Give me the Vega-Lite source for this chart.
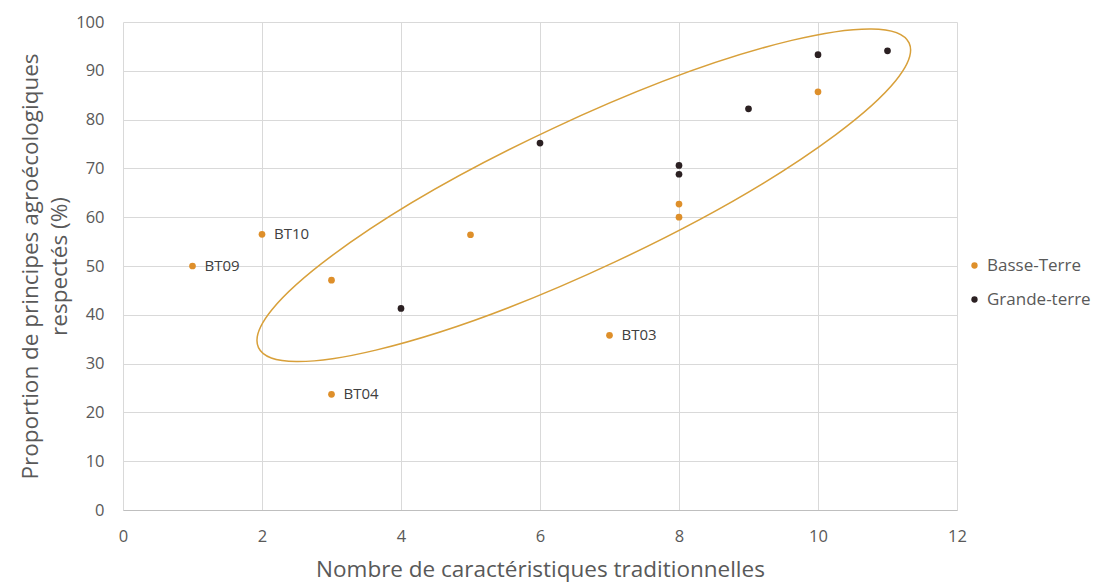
{
  "$schema": "https://vega.github.io/schema/vega-lite/v6.json",
  "width": 834,
  "height": 488,
  "autosize": {"type": "none"},
  "padding": {"left": 123, "top": 22, "right": 143, "bottom": 73},
  "background": "white",
  "config": {
    "font": "Open Sans",
    "view": {"stroke": null},
    "axis": {
      "gridColor": "#d9d9d9",
      "gridWidth": 1,
      "ticks": false,
      "labelFont": "Open Sans",
      "labelFontSize": 16.5,
      "labelColor": "#595959",
      "labelFlush": false,
      "titleFont": "Open Sans",
      "titleFontSize": 22.5,
      "titleFontWeight": "normal",
      "titleColor": "#595959"
    }
  },
  "datasets": {
    "pts": [
      {"nb": 1, "prop": 50.0, "region": "Basse-Terre", "label": "BT09"},
      {"nb": 2, "prop": 56.5, "region": "Basse-Terre", "label": "BT10"},
      {"nb": 3, "prop": 47.1, "region": "Basse-Terre", "label": ""},
      {"nb": 3, "prop": 23.7, "region": "Basse-Terre", "label": "BT04"},
      {"nb": 5, "prop": 56.4, "region": "Basse-Terre", "label": ""},
      {"nb": 7, "prop": 35.8, "region": "Basse-Terre", "label": "BT03"},
      {"nb": 8, "prop": 62.7, "region": "Basse-Terre", "label": ""},
      {"nb": 8, "prop": 60.0, "region": "Basse-Terre", "label": ""},
      {"nb": 10, "prop": 85.7, "region": "Basse-Terre", "label": ""},
      {"nb": 4, "prop": 41.3, "region": "Grande-terre", "label": ""},
      {"nb": 6, "prop": 75.2, "region": "Grande-terre", "label": ""},
      {"nb": 8, "prop": 70.6, "region": "Grande-terre", "label": ""},
      {"nb": 8, "prop": 68.8, "region": "Grande-terre", "label": ""},
      {"nb": 9, "prop": 82.2, "region": "Grande-terre", "label": ""},
      {"nb": 10, "prop": 93.3, "region": "Grande-terre", "label": ""},
      {"nb": 11, "prop": 94.1, "region": "Grande-terre", "label": ""}
    ],
    "ell": [
      {"nb": 6.63, "prop": 64.5}
    ]
  },
  "layer": [
    {
      "data": {"name": "ell"},
      "mark": {
        "type": "point",
        "filled": false,
        "shape": "M 3.2529 -1.5237 C 3.4253 -1.1556 2.1088 -0.1751 0.3122 0.6665 C -1.4844 1.5081 -3.0805 1.8918 -3.2529 1.5237 C -3.4253 1.1556 -2.1088 0.1751 -0.3122 -0.6665 C 1.4844 -1.5081 3.0805 -1.8918 3.2529 -1.5237 Z",
        "size": 40000,
        "stroke": "#D8A03A",
        "strokeWidth": 1.5,
        "opacity": 1
      },
      "encoding": {
        "x": {"field": "nb", "type": "quantitative"},
        "y": {"field": "prop", "type": "quantitative"}
      }
    },
    {
      "data": {"name": "pts"},
      "mark": {"type": "point", "filled": true, "size": 45, "opacity": 1},
      "encoding": {
        "x": {
          "field": "nb",
          "type": "quantitative",
          "scale": {"domain": [0, 12], "nice": false},
          "axis": {
            "values": [0, 2, 4, 6, 8, 10, 12],
            "format": "d",
            "title": "Nombre de caractéristiques traditionnelles",
            "domainColor": "#bfbfbf",
            "labelPadding": 18,
            "titlePadding": 14
          }
        },
        "y": {
          "field": "prop",
          "type": "quantitative",
          "scale": {"domain": [0, 100], "nice": false},
          "axis": {
            "values": [0, 10, 20, 30, 40, 50, 60, 70, 80, 90, 100],
            "format": "d",
            "title": ["Proportion de principes agroécologiques", "respectés (%)"],
            "titleLineHeight": 29,
            "domain": false,
            "labelPadding": 19,
            "titlePadding": 4
          }
        },
        "color": {
          "field": "region",
          "type": "nominal",
          "scale": {"domain": ["Basse-Terre", "Grande-terre"], "range": ["#DE8F2A", "#2B2022"]},
          "legend": {
            "title": null,
            "orient": "none",
            "legendX": 843,
            "legendY": 235,
            "labelFont": "Open Sans",
            "labelFontSize": 17,
            "labelColor": "#595959",
            "symbolType": "circle",
            "symbolSize": 40,
            "rowPadding": 16,
            "labelOffset": 4
          }
        }
      }
    },
    {
      "data": {"name": "pts"},
      "transform": [{"filter": "datum.label != ''"}],
      "mark": {"type": "text", "align": "left", "baseline": "middle", "dx": 12, "fontSize": 15, "color": "#404040", "font": "Open Sans"},
      "encoding": {
        "x": {"field": "nb", "type": "quantitative"},
        "y": {"field": "prop", "type": "quantitative"},
        "text": {"field": "label"}
      }
    }
  ]
}
